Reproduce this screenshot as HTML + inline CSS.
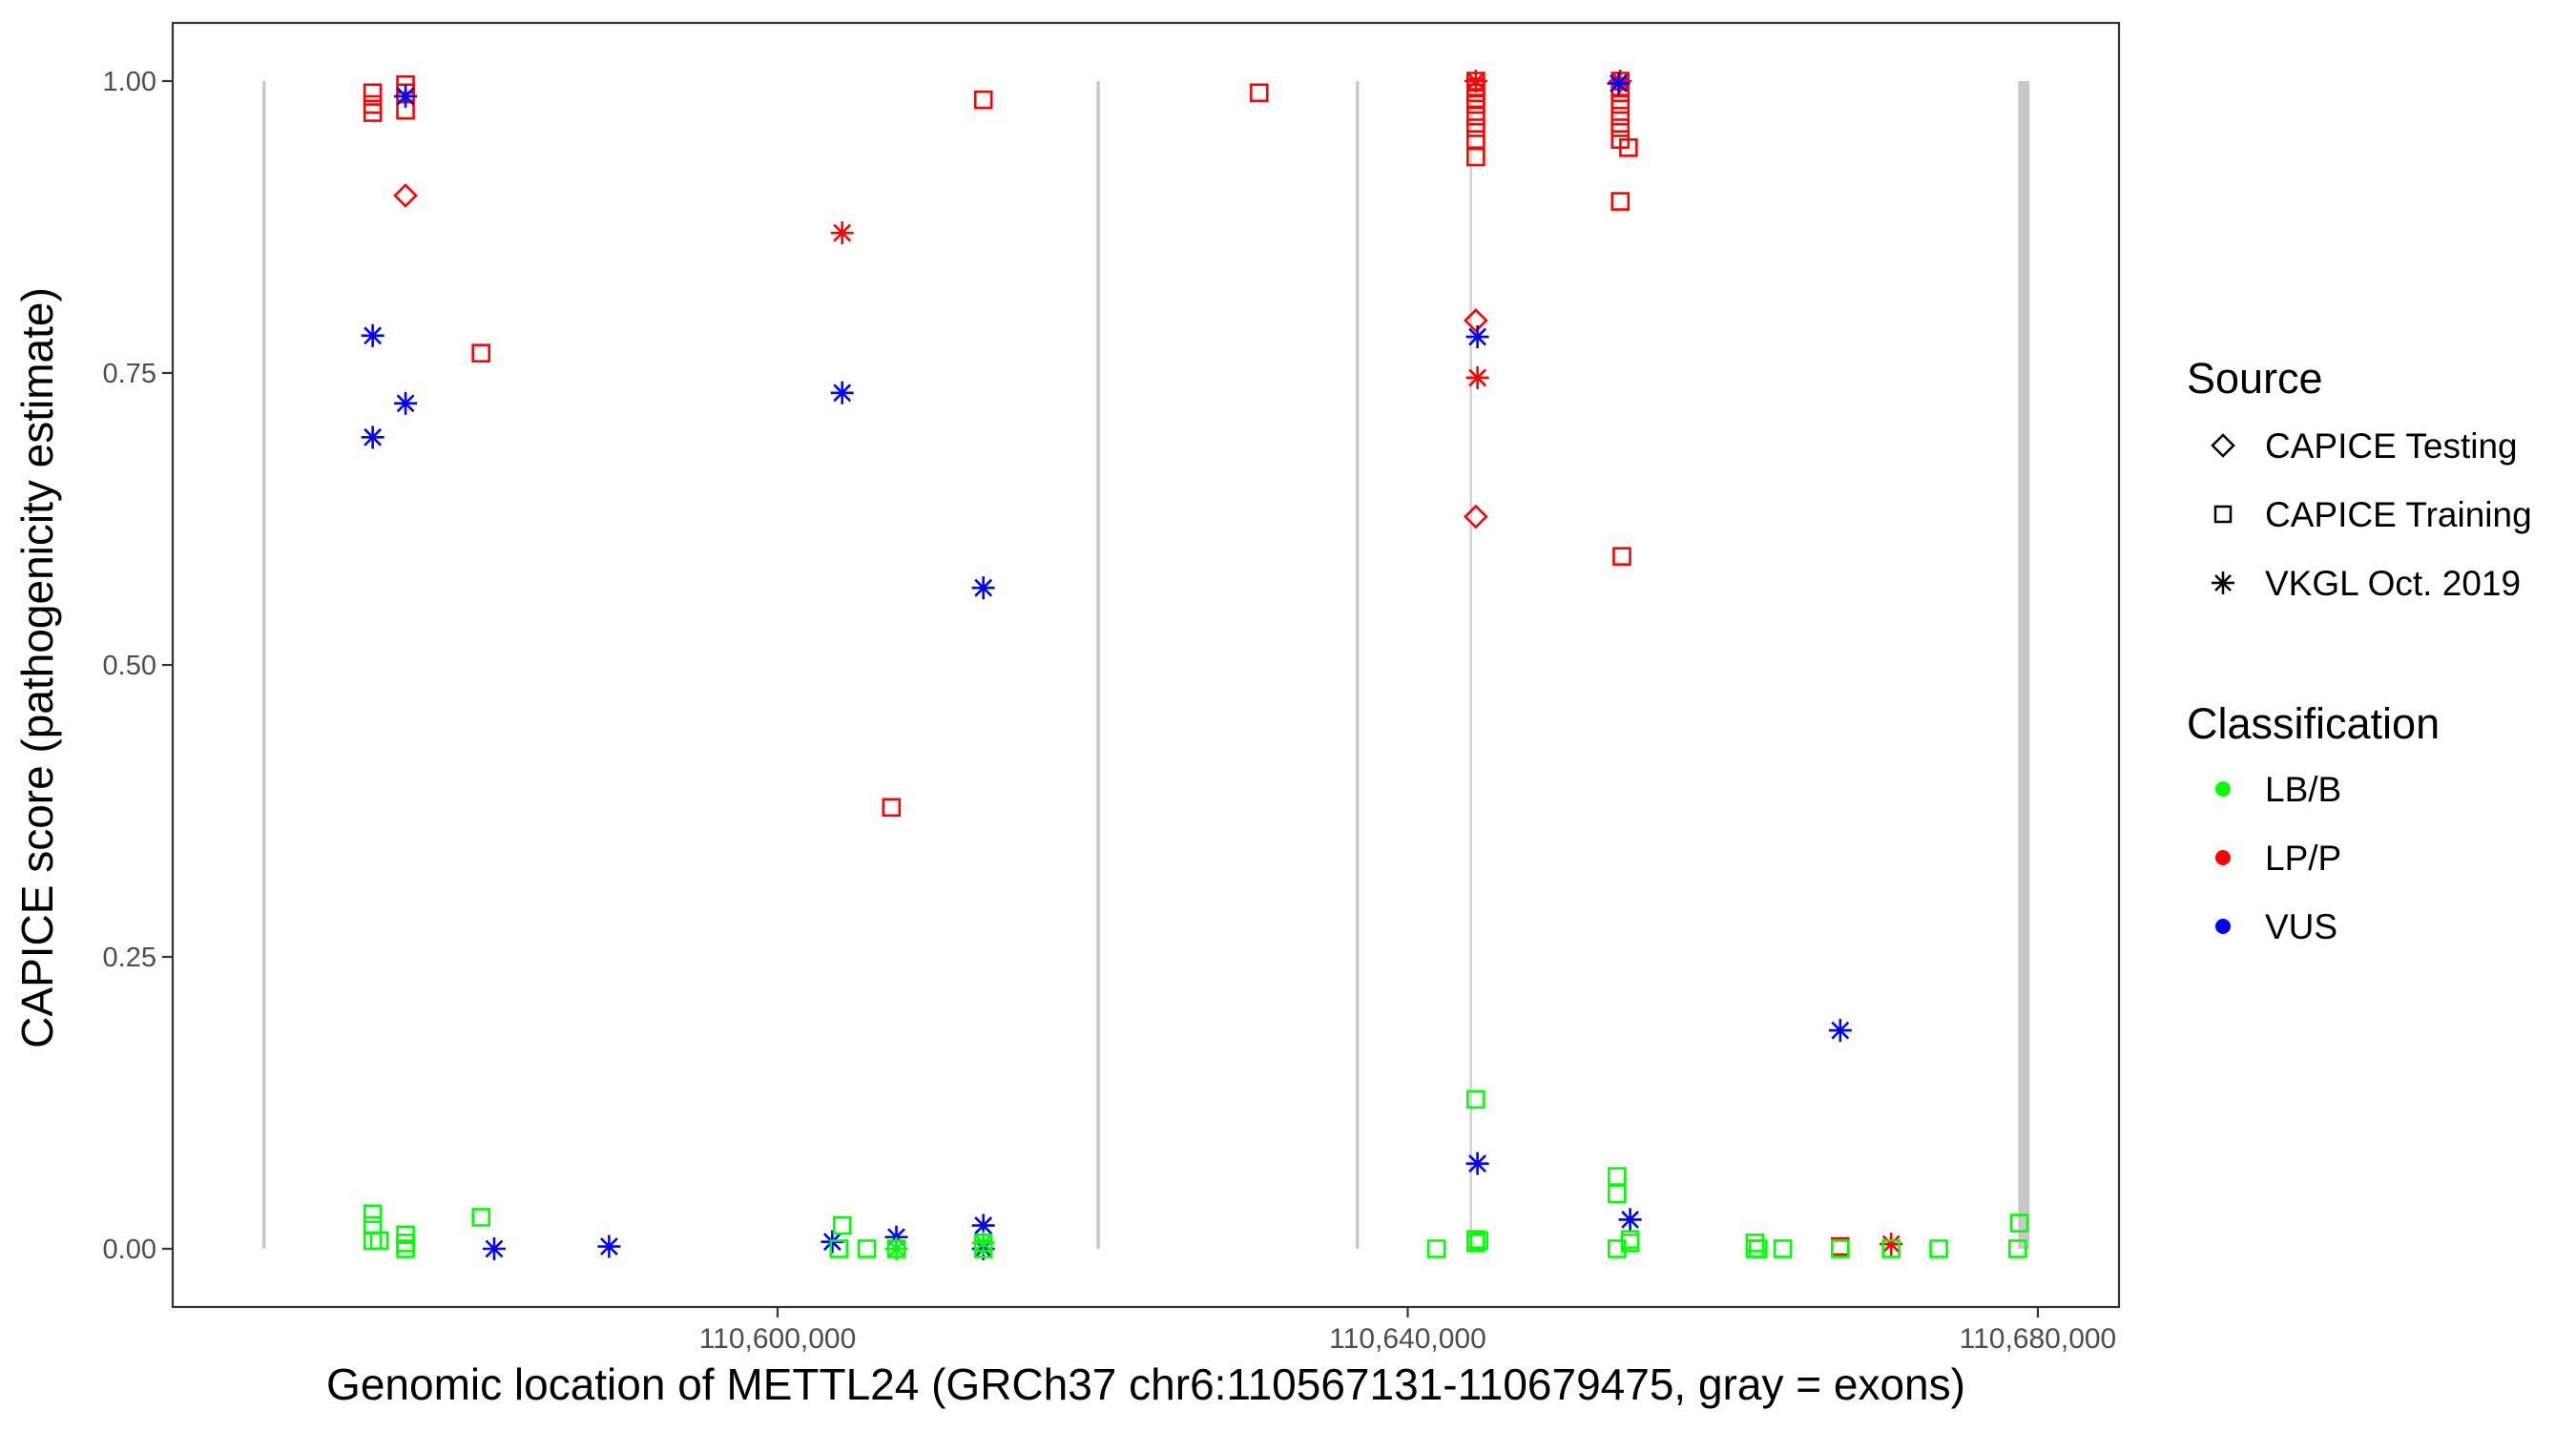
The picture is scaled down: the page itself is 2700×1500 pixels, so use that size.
<!DOCTYPE html>
<html><head><meta charset="utf-8"><style>
html,body{margin:0;padding:0;background:#fff;}
svg{display:block;font-family:"Liberation Sans",Arial,sans-serif;}
</style></head><body>
<svg id="chart" width="2700" height="1500" viewBox="0 0 2700 1500" xmlns="http://www.w3.org/2000/svg">
<rect x="0" y="0" width="2700" height="1500" fill="#fff"/>
<g id="exons"></g>
<g id="points"></g>
<rect x="181" y="24" width="2040" height="1346" fill="none" stroke="#333" stroke-width="2.2"/>
<g id="yaxis"></g>
<g id="xaxis"></g>
<text x="1201" y="1467" font-size="46" text-anchor="middle" fill="#000">Genomic location of METTL24 (GRCh37 chr6:110567131-110679475, gray = exons)</text>
<text transform="translate(55,700) rotate(-90)" font-size="46" text-anchor="middle" fill="#000">CAPICE score (pathogenicity estimate)</text>
<g id="legend" transform="translate(-26,-4)">
<text x="2318" y="416" font-size="45" fill="#000">Source</text>
<g>
<path d="M2356,460 L2367,471 L2356,482 L2345,471 Z" fill="none" stroke="#000" stroke-width="2.5"/>
<text x="2400" y="484" font-size="37" fill="#000">CAPICE Testing</text></g>
<g>
<rect x="2348" y="535" width="16" height="16" fill="none" stroke="#000" stroke-width="2.5"/>
<text x="2400" y="556" font-size="37" fill="#000">CAPICE Training</text></g>
<g>
<path d="M2344,615 h24 M2356,603 v24 M2348,607 l16,16 M2364,607 l-16,16" stroke="#000" stroke-width="2.5"/>
<text x="2400" y="628" font-size="37" fill="#000">VKGL Oct. 2019</text></g>
<text x="2318" y="778" font-size="45" fill="#000">Classification</text>
<g><circle cx="2356" cy="831" r="8" fill="#00ff00"/><text x="2400" y="844" font-size="37" fill="#000">LB/B</text></g>
<g><circle cx="2356" cy="903" r="8" fill="#ff0000"/><text x="2400" y="916" font-size="37" fill="#000">LP/P</text></g>
<g><circle cx="2356" cy="975" r="8" fill="#0000ff"/><text x="2400" y="988" font-size="37" fill="#000">VUS</text></g>
</g>
</svg>
<script>
const yTicks = [0, 0.25, 0.5, 0.75, 1.0];
const yTickLabels = ["0.00", "0.25", "0.50", "0.75", "1.00"];
const xTicks = [110600000, 110640000, 110680000];
const xTickLabels = ["110,600,000", "110,640,000", "110,680,000"];
const exonStarts = [110567300, 110620250, 110636700, 110643950, 110678750];
const exonEnds   = [110567400, 110620350, 110636800, 110643980, 110679475];
// each point: position, score, source, class
const pointPos = [
110574300,110574300,110574300,110576384,110576384,110576384,110581177,110607227,110613062,110630568,110644322,110644322,110644322,110644322,110644322,110644322,110644322,110644322,110644322,110653492,110653492,110653492,110653492,110653492,110653492,110653492,110654013,110653492,110653596,110667455,
110576384,110644322,110644322,
110604101,110644427,110670685,110644322,110653492,
110574300,110574300,110576384,110576384,110582011,110589305,110603476,110604101,110607540,110613062,110613062,110613062,110644427,110644427,110653388,110654117,110667455,
110574300,110574300,110574300,110574717,110576384,110576384,110576384,110581177,110603893,110604101,110605664,110607540,110613062,110613062,110641822,110644322,110644322,110644322,110644527,110653284,110653284,110653284,110654117,110654117,110662036,110662036,110662245,110663808,110667455,110670685,110673707,110678721,110678821,
110607540,110613062
];
const pointScore = [
0.99,0.98,0.973,0.997,0.99,0.975,0.767,0.378,0.984,0.99,1.0,0.995,0.99,0.985,0.98,0.97,0.96,0.95,0.935,1.0,0.995,0.99,0.98,0.97,0.96,0.95,0.943,0.897,0.593,0.002,
0.902,0.795,0.627,
0.87,0.746,0.004,1.0,1.0,
0.782,0.695,0.987,0.724,0.0,0.002,0.006,0.733,0.01,0.566,0.02,0.0,0.781,0.073,0.998,0.025,0.187,
0.03,0.02,0.007,0.007,0.012,0.005,0.0,0.027,0.0,0.02,0.0,0.0,0.0,0.005,0.0,0.128,0.008,0.005,0.007,0.062,0.047,0.0,0.008,0.005,0.005,0.0,0.0,0.0,0.0,0.0,0.0,0.0,0.022,
0.0,0.005
];
const pointSource = [
"tr","tr","tr","tr","tr","tr","tr","tr","tr","tr","tr","tr","tr","tr","tr","tr","tr","tr","tr","tr","tr","tr","tr","tr","tr","tr","tr","tr","tr","tr",
"te","te","te",
"vk","vk","vk","vk","vk",
"vk","vk","vk","vk","vk","vk","vk","vk","vk","vk","vk","vk","vk","vk","vk","vk","vk",
"tr","tr","tr","tr","tr","tr","tr","tr","tr","tr","tr","tr","tr","tr","tr","tr","tr","tr","tr","tr","tr","tr","tr","tr","tr","tr","tr","tr","tr","tr","tr","tr","tr",
"vk","vk"
];
const pointClass = [
"P","P","P","P","P","P","P","P","P","P","P","P","P","P","P","P","P","P","P","P","P","P","P","P","P","P","P","P","P","P",
"P","P","P",
"P","P","P","P","P",
"V","V","V","V","V","V","V","V","V","V","V","V","V","V","V","V","V",
"B","B","B","B","B","B","B","B","B","B","B","B","B","B","B","B","B","B","B","B","B","B","B","B","B","B","B","B","B","B","B","B","B",
"B","B"
];

const NS = "http://www.w3.org/2000/svg";
const X0 = 110600000, PX0 = 815, PXPERBP = 0.016512;
function xScale(v){ return PX0 + (v - X0) * PXPERBP; }
function yScale(s){ return 1309 - s * 1224; }
const colors = {B:"#00ff00", P:"#ff0000", V:"#0000ff"};

function mk(tag, attrs, parent){
  const e = document.createElementNS(NS, tag);
  for (const k in attrs) e.setAttribute(k, attrs[k]);
  parent.appendChild(e);
  return e;
}

const exG = document.getElementById("exons");
exonStarts.forEach((s, i) => {
  const x1 = xScale(s), x2 = xScale(exonEnds[i]);
  const w = Math.max(x2 - x1, i === 3 ? 2 : 3.5);
  const r = mk("rect", {x: x1, y: yScale(1), width: w, height: yScale(0) - yScale(1), fill: "#c8c8c8"}, exG);
  
  
});

const yG = document.getElementById("yaxis");
yTicks.forEach((t, i) => {
  const y = yScale(t);
  const l = mk("line", {x1: 170, x2: 181, y1: y, y2: y, stroke: "#333", "stroke-width": 2.2}, yG);
  
  
  const tx = mk("text", {x: 164, y: y + 10, "font-size": 29, "text-anchor": "end", fill: "#4d4d4d"}, yG);
  tx.textContent = yTickLabels[i];
  
  
});
const xG = document.getElementById("xaxis");
xTicks.forEach((t, i) => {
  const x = xScale(t);
  const l = mk("line", {x1: x, x2: x, y1: 1370, y2: 1381, stroke: "#333", "stroke-width": 2.2}, xG);
  
  
  const tx = mk("text", {x: x, y: 1413, "font-size": 30, "text-anchor": "middle", fill: "#4d4d4d"}, xG);
  tx.textContent = xTickLabels[i];
  
  
});

const pG = document.getElementById("points");
pointPos.forEach((p, i) => {
  const cx = xScale(p), cy = yScale(pointScore[i]);
  const c = colors[pointClass[i]];
  const src = pointSource[i];
  let el;
  if (src === "tr") {
    el = mk("rect", {x: cx - 8.5, y: cy - 8.5, width: 17, height: 17, fill: "none", stroke: c, "stroke-width": 2.6}, pG);
  } else if (src === "te") {
    el = mk("path", {d: `M${cx},${cy-11} L${cx+11},${cy} L${cx},${cy+11} L${cx-11},${cy} Z`, fill: "none", stroke: c, "stroke-width": 2.6}, pG);
  } else {
    const r = 12, d = 8.5;
    el = mk("path", {d: `M${cx-r},${cy} h${2*r} M${cx},${cy-r} v${2*r} M${cx-d},${cy-d} l${2*d},${2*d} M${cx+d},${cy-d} l${-2*d},${2*d}`, stroke: c, "stroke-width": 2.6, fill: "none"}, pG);
  }
  
  
});
</script>
</body></html>
